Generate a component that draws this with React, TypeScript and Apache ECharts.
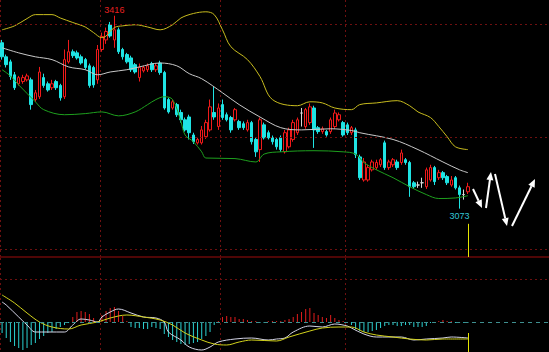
import React, { useEffect, useRef } from "react";
import * as echarts from "echarts";

const SLOT_COUNT = 132;
const slots: string[] = Array.from({ length: SLOT_COUNT }, (_, i) => String(i));

// [open, close, lowest, highest]
const candles: number[][] = [
  [3368, 3343, 3338, 3373], [3343, 3329, 3324, 3347], [3334, 3308, 3302, 3338], [3311, 3288, 3284, 3316],
  [3295, 3306, 3292, 3309], [3299, 3306, 3295, 3311], [3302, 3309, 3299, 3313], [3302, 3258, 3249, 3306],
  [3267, 3279, 3263, 3284], [3272, 3316, 3268, 3325], [3306, 3292, 3288, 3313], [3295, 3284, 3281, 3299],
  [3288, 3295, 3284, 3302], [3299, 3288, 3284, 3302], [3292, 3270, 3265, 3295], [3272, 3338, 3268, 3356],
  [3334, 3352, 3331, 3373], [3352, 3345, 3341, 3356], [3350, 3341, 3338, 3354], [3343, 3332, 3329, 3347],
  [3338, 3324, 3320, 3341], [3327, 3292, 3288, 3331], [3324, 3293, 3288, 3327], [3302, 3356, 3295, 3364],
  [3356, 3379, 3352, 3386], [3373, 3388, 3366, 3395], [3400, 3380, 3377, 3405], [3373, 3391, 3359, 3416],
  [3391, 3352, 3348, 3395], [3356, 3343, 3338, 3359], [3347, 3334, 3331, 3350], [3341, 3320, 3316, 3345],
  [3329, 3316, 3313, 3332], [3306, 3324, 3299, 3331], [3318, 3324, 3315, 3327], [3320, 3327, 3316, 3331],
  [3331, 3320, 3316, 3334], [3320, 3327, 3316, 3331], [3332, 3315, 3311, 3336], [3315, 3252, 3249, 3318],
  [3267, 3245, 3242, 3270], [3252, 3263, 3249, 3267], [3258, 3240, 3236, 3261], [3244, 3231, 3226, 3249],
  [3231, 3213, 3210, 3235], [3236, 3208, 3196, 3240], [3204, 3192, 3188, 3208], [3190, 3196, 3187, 3199],
  [3190, 3213, 3187, 3220], [3201, 3226, 3197, 3231], [3213, 3254, 3210, 3267], [3244, 3236, 3231, 3290],
  [3219, 3252, 3213, 3260], [3258, 3235, 3231, 3267], [3240, 3231, 3228, 3244], [3235, 3213, 3208, 3238],
  [3231, 3249, 3228, 3252], [3228, 3217, 3213, 3231], [3224, 3217, 3213, 3228], [3213, 3226, 3210, 3231],
  [3226, 3192, 3187, 3229], [3196, 3174, 3165, 3199], [3178, 3231, 3156, 3235], [3222, 3199, 3196, 3226],
  [3208, 3199, 3196, 3212], [3199, 3192, 3187, 3203], [3196, 3183, 3178, 3199], [3199, 3178, 3174, 3203],
  [3174, 3208, 3171, 3213], [3183, 3213, 3180, 3217], [3196, 3226, 3192, 3231], [3208, 3231, 3204, 3235],
  [3243, 3243, 3219, 3252], [3219, 3249, 3215, 3252], [3226, 3254, 3222, 3260], [3252, 3213, 3181, 3256],
  [3217, 3210, 3206, 3220], [3210, 3215, 3206, 3219], [3210, 3204, 3201, 3213], [3210, 3231, 3206, 3235],
  [3219, 3243, 3215, 3249], [3231, 3240, 3228, 3244], [3226, 3204, 3201, 3229], [3222, 3208, 3204, 3226],
  [3208, 3217, 3204, 3220], [3213, 3169, 3163, 3217], [3165, 3128, 3124, 3169], [3124, 3156, 3121, 3163],
  [3124, 3146, 3121, 3151], [3142, 3156, 3139, 3160], [3146, 3155, 3142, 3160], [3151, 3160, 3147, 3163],
  [3190, 3146, 3142, 3194], [3146, 3156, 3142, 3160], [3151, 3160, 3147, 3163], [3156, 3146, 3142, 3160],
  [3155, 3172, 3151, 3178], [3160, 3155, 3151, 3163], [3155, 3112, 3094, 3158], [3119, 3112, 3108, 3122],
  [3115, 3115, 3110, 3121], [3119, 3119, 3110, 3128], [3112, 3142, 3108, 3146], [3124, 3146, 3121, 3151],
  [3146, 3121, 3115, 3149], [3128, 3137, 3124, 3142], [3137, 3128, 3124, 3140], [3130, 3119, 3115, 3133],
  [3115, 3124, 3112, 3131], [3128, 3110, 3107, 3131], [3110, 3098, 3073, 3114], [3098, 3098, 3089, 3107],
  [3103, 3112, 3099, 3119],
];

// Bollinger bands: [slot, price]
const bollUpper: number[][] = [
  [0, 3391], [3, 3398], [6, 3411], [8, 3418], [12, 3418], [14, 3412], [17, 3404], [20, 3396], [22, 3386],
  [24, 3377], [25, 3380], [27, 3395], [29, 3398], [32, 3400], [35, 3396], [38, 3391], [41, 3400], [43, 3412],
  [46, 3420], [49, 3423], [51, 3418], [53, 3391], [55, 3361], [59, 3338], [62, 3308], [65, 3267], [71, 3256],
  [74, 3263], [77, 3261], [80, 3252], [84, 3249], [86, 3258], [90, 3261], [95, 3265], [98, 3256], [100, 3245],
  [103, 3235], [105, 3219], [107, 3201], [109, 3183], [112, 3178],
];
const bollMid: number[][] = [
  [0, 3359], [4, 3350], [8, 3343], [12, 3338], [16, 3325], [20, 3320], [23, 3311], [26, 3316], [30, 3320],
  [33, 3325], [38, 3332], [42, 3327], [45, 3313], [48, 3304], [53, 3279], [57, 3258], [62, 3236], [67, 3217],
  [72, 3213], [79, 3215], [84, 3212], [86, 3208], [94, 3196], [100, 3178], [106, 3156], [110, 3142], [112, 3137],
];
const bollLower: number[][] = [
  [0, 3320], [2, 3309], [4, 3293], [8, 3263], [10, 3249], [15, 3240], [20, 3242], [24, 3245], [28, 3238],
  [32, 3245], [35, 3258], [37, 3267], [39, 3272], [41, 3267], [43, 3228], [44, 3204], [46, 3192], [48, 3174],
  [49, 3163], [56, 3162], [61, 3156], [63, 3170], [67, 3174], [75, 3176], [82, 3174], [85, 3170], [87, 3155],
  [90, 3142], [94, 3128], [98, 3112], [102, 3098], [105, 3091], [109, 3092], [112, 3096],
];

const macdHist: number[] = [
  -11, -16, -20, -24, -26, -28, -26, -23, -21, -17, -14, -11, -10, -7, -5, -3, -1,
  5, 10, 11, 10, 8, 4, 1, 7, 11, 14, 15, 11, 6, 1,
  -5, -6, -6, -7, -7, -5, -6, -7,
  -12, -15, -18, -20, -22, -23, -22, -21, -20, -17, -14, -10, -3,
  1, 5, 6, 5, 5, 3, 3, 2, 1, 1, -1, -1, 1, 1, 1, 1,
  2, 3, 5, 8, 10, 13, 14, 9, 7, 5, 4, 7, 4, 2, 1, -1,
  -3, -7, -9, -10, -10, -9, -8, -6, -4, -3, -3, -4, -4, -3, -3, -5, -5, -5, -4,
  -1, -1, 1, 2, 1, 1, -1, -1, -1, -1,
];
const macdDif: number[][] = [
  [0, 20], [1, 17], [4, 5], [6, -3], [8, -10], [11, -10], [15, -10], [17, -3], [19, 3], [21, 2], [23, 0],
  [24, 5], [26, 10], [28, 13], [31, 9], [34, 5], [37, 4], [39, 0], [40, -10], [43, -18], [45, -25], [48, -28],
  [50, -25], [52, -20], [56, -17], [60, -16], [64, -18], [66, -17], [68, -16], [70, -10], [74, -4], [77, -5],
  [80, -2], [83, -4], [84, -6], [87, -12], [90, -15], [93, -15], [96, -15], [99, -18], [102, -17], [106, -16],
  [108, -15], [112, -16],
];
const macdDea: number[][] = [
  [0, 27], [3, 19], [6, 9], [9, 0], [12, -5], [16, -7], [19, -3], [23, 0], [26, 4], [30, 7], [34, 5], [38, 2],
  [41, -3], [44, -11], [48, -18], [51, -22], [54, -23], [57, -20], [60, -18], [66, -19], [69, -15], [74, -9],
  [77, -6], [81, -5], [84, -5], [87, -10], [90, -13], [94, -15], [98, -17], [102, -18], [106, -17], [112, -17],
];

const priceGridLines: number[] = [3000, 3200, 3400];
const slotGridLines: number[] = [0, 24, 53, 83];
const macdGridLine = 43;
const cursorSlot = "112";

// white annotation arrows [x1, y1, x2, y2]
const arrows: number[][] = [
  [473, 189, 482, 208],
  [486, 208, 491, 172],
  [495, 174, 507, 226],
  [512, 226, 535, 179],
];

const RED = "#f01a1a";
const CYAN = "#1fe4e4";
const GRID_RED = "#6e1010";

function arrowElements(a: number[]) {
  const [x1, y1, x2, y2] = a;
  const dx = x2 - x1;
  const dy = y2 - y1;
  const L = Math.hypot(dx, dy);
  const ux = dx / L;
  const uy = dy / L;
  const hl = 8;
  const hw = 3.5;
  const bx = x2 - ux * hl;
  const by = y2 - uy * hl;
  return [
    { type: "line", silent: true, shape: { x1, y1, x2: bx, y2: by }, style: { stroke: "#ffffff", lineWidth: 2 } },
    {
      type: "polygon",
      silent: true,
      shape: { points: [[x2, y2], [bx - uy * hw, by + ux * hw], [bx + uy * hw, by - ux * hw]] },
      style: { fill: "#ffffff" },
    },
  ];
}

export default function App() {
  const ref = useRef<HTMLDivElement>(null);
  useEffect(() => {
    const chart = echarts.init(ref.current!, null, { renderer: "svg" });
    const splitInterval = (index: number) => slotGridLines.includes(index);
    const option: any = {
      animation: false,
      backgroundColor: "#000000",
      grid: [
        { left: 0, right: 0, top: 0, height: 257, outerBoundsMode: "none" },
        { left: 0, right: 0, top: 258, height: 94, outerBoundsMode: "none" },
      ],
      xAxis: [
        {
          type: "category", gridIndex: 0, data: slots, boundaryGap: true,
          axisLine: { show: true, lineStyle: { color: "#6a0808", width: 1.5 } },
          axisTick: { show: false }, axisLabel: { show: false },
          splitLine: { show: true, interval: splitInterval, lineStyle: { color: GRID_RED, type: [2, 3], width: 1 } },
        },
        {
          type: "category", gridIndex: 1, data: slots, boundaryGap: true,
          axisLine: { show: false }, axisTick: { show: false }, axisLabel: { show: false },
          splitLine: { show: true, interval: splitInterval, lineStyle: { color: GRID_RED, type: [2, 3], width: 1 } },
        },
      ],
      yAxis: [
        { type: "value", gridIndex: 0, min: 2987, max: 3444, show: false, splitLine: { show: false } },
        { type: "value", gridIndex: 1, min: -30, max: 64, show: false, splitLine: { show: false } },
      ],
      series: [
        {
          type: "candlestick", xAxisIndex: 0, yAxisIndex: 0, data: candles, barWidth: 3,
          itemStyle: {
            color: "#000000", color0: CYAN, borderColor: RED, borderColor0: CYAN,
            borderColorDoji: "#d8d8d8", borderWidth: 1,
          },
          markPoint: {
            symbol: "circle", symbolSize: 1, silent: true,
            itemStyle: { color: "rgba(0,0,0,0)" },
            data: [
              {
                type: "max", valueDim: "highest",
                label: { show: true, position: "top", distance: 1, formatter: (p: any) => String(Math.round(p.value)), color: "#e82020", fontSize: 9, fontFamily: "Liberation Sans" },
              },
              {
                type: "min", valueDim: "lowest",
                label: { show: true, position: "bottom", distance: 2, formatter: (p: any) => String(Math.round(p.value)), color: "#33c6d6", fontSize: 9, fontFamily: "Liberation Sans" },
              },
            ],
          },
          markLine: {
            silent: true, symbol: ["none", "none"], label: { show: false },
            lineStyle: { color: GRID_RED, type: [2, 3], width: 1 },
            data: [
              ...priceGridLines.map((v) => ({ yAxis: v })),
              [
                { coord: [cursorSlot, 3046], lineStyle: { color: "#e6e600", type: "solid", width: 1 } },
                { coord: [cursorSlot, 2987] },
              ],
            ],
          },
        },
        { type: "line", xAxisIndex: 0, yAxisIndex: 0, data: bollUpper, showSymbol: false, smooth: 0.35, lineStyle: { color: "#c8bc1e", width: 1 } },
        { type: "line", xAxisIndex: 0, yAxisIndex: 0, data: bollMid, showSymbol: false, smooth: 0.35, lineStyle: { color: "#c8c8c8", width: 1 } },
        { type: "line", xAxisIndex: 0, yAxisIndex: 0, data: bollLower, showSymbol: false, smooth: 0.35, lineStyle: { color: "#1ea01e", width: 1 } },
        {
          type: "bar", xAxisIndex: 1, yAxisIndex: 1, data: macdHist, barWidth: 1,
          itemStyle: { color: (p: any) => (p.value >= 0 ? "#e01c1c" : "#2ad2d2") },
          markLine: {
            silent: true, symbol: ["none", "none"], label: { show: false },
            data: [
              { yAxis: macdGridLine, lineStyle: { color: GRID_RED, type: [2, 3], width: 1 } },
              { yAxis: 0, lineStyle: { color: "#3f8f8f", type: [4, 4], width: 1 } },
              [
                { coord: [cursorSlot, -11], lineStyle: { color: "#e6e600", type: "solid", width: 1 } },
                { coord: [cursorSlot, -30] },
              ],
            ],
          },
        },
        { type: "line", xAxisIndex: 1, yAxisIndex: 1, data: macdDif, showSymbol: false, smooth: 0.35, lineStyle: { color: "#d4d4e6", width: 1 } },
        { type: "line", xAxisIndex: 1, yAxisIndex: 1, data: macdDea, showSymbol: false, smooth: 0.35, lineStyle: { color: "#d2d21c", width: 1 } },
      ],
      graphic: arrows.flatMap((a) => arrowElements(a)),
    };
    chart.setOption(option);
    return () => chart.dispose();
  }, []);
  return (
    <div
      ref={ref}
      style={{ position: "fixed", left: 0, top: 0, width: 549, height: 352, background: "#000" }}
    />
  );
}
